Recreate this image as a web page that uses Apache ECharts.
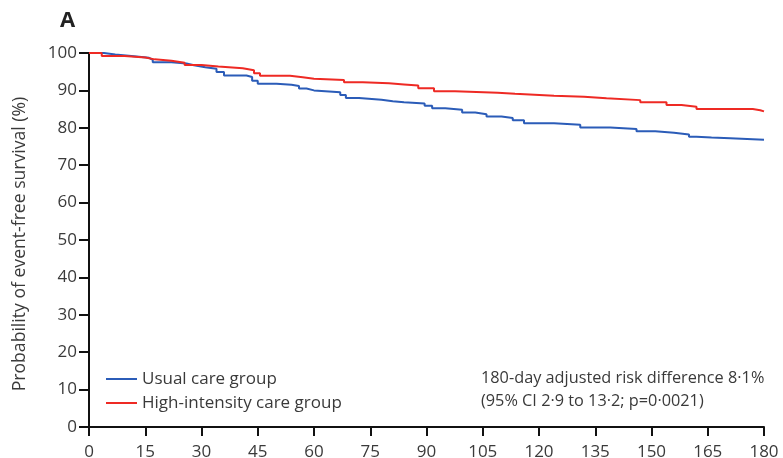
<!DOCTYPE html>
<html>
<head>
<meta charset="utf-8">
<script src="https://cdn.jsdelivr.net/npm/echarts@6/dist/echarts.min.js"></script>
<style>html,body{margin:0;padding:0;background:#fff}#c{width:783px;height:458px}</style>
</head>
<body>
<div id="c"></div>
<script>
const xTicks = [0,15,30,45,60,75,90,105,120,135,150,165,180];
const yTicks = [0,10,20,30,40,50,60,70,80,90,100];

const usualDays = [0,4,7,12,16,17,22,26,28,31,34,36,42,43.5,45,50,54,56,58,60,67,68.5,72,78,81,84,89.5,91.5,95,99.5,103,106,110,113,116,124,131,139,146,151,156,160,162,166,171,180];
const usualVals = [100,99.6,99.1,98.7,98.2,97.5,97.2,96.7,96.2,95.8,94.9,94.0,93.6,92.6,91.8,91.5,91.2,90.5,90.0,89.5,88.8,88.0,87.5,87.1,86.8,86.5,85.9,85.2,84.8,84.1,83.6,83.0,82.6,82.0,81.2,80.8,80.1,79.7,79.1,78.7,78.2,77.6,77.4,77.2,76.8,76.8];

const highDays = [0,3.4,9.5,15,17.5,22,25.5,30,34.5,41,44,45.6,53.6,57,60,68,73,80,84,87.8,92,97.6,109,113.6,124,132,138,147,154,158,162,177,179,180];
const highVals = [100,99.2,98.8,98.3,97.9,97.4,96.8,96.4,95.9,95.4,94.6,93.9,93.5,93.1,92.8,92.2,91.9,91.6,91.3,90.6,89.8,89.4,89.1,88.6,88.3,87.9,87.4,86.8,86.1,85.6,85.0,84.7,84.4,84.4];

const seriesNames = ['Usual care group','High-intensity care group'];
const noteLines = ['180-day adjusted risk difference 8·1%','(95% CI 2·9 to 13·2; p=0·0021)'];
const yAxisTitle = 'Probability of event-free survival (%)';
const panelLabel = 'A';

const FONT = 'Open Sans';
const TXT = '#3a3a3a';
const chart = echarts.init(document.getElementById('c'));
chart.setOption({
  animation:false,
  textStyle:{fontFamily:FONT},
  grid:{left:89,right:19,top:53,bottom:31,containLabel:false,outerBoundsMode:'none'},
  xAxis:{type:'value',min:0,max:180,interval:15,
    axisLine:{lineStyle:{color:'#111',width:2}},
    axisTick:{length:9,lineStyle:{color:'#111',width:2}},
    axisLabel:{margin:17,fontSize:17,color:TXT,fontFamily:FONT},
    splitLine:{show:false}},
  yAxis:{type:'value',min:0,max:100,interval:10,
    axisLine:{show:true,lineStyle:{color:'#111',width:2}},
    axisTick:{show:true,length:10,lineStyle:{color:'#111',width:2}},
    axisLabel:{margin:12,fontSize:17,color:TXT,fontFamily:FONT},
    splitLine:{show:false}},
  legend:{orient:'vertical',left:106,top:369,padding:0,itemWidth:31,itemHeight:2,itemGap:4,icon:'rect',
    textStyle:{fontSize:17,lineHeight:20,color:TXT,fontFamily:FONT},
    data:seriesNames},
  graphic:[
    {type:'text',x:60,y:21,style:{text:panelLabel,fontSize:22,fontWeight:'bold',fill:'#222',fontFamily:FONT,verticalAlign:'middle'}},
    {type:'text',x:20,y:244,rotation:Math.PI/2,style:{text:yAxisTitle,fontSize:17.6,fill:TXT,fontFamily:FONT,align:'center',verticalAlign:'middle'}},
    {type:'text',x:481,y:378,style:{text:noteLines[0],fontSize:16.3,fill:TXT,fontFamily:FONT,verticalAlign:'middle'}},
    {type:'text',x:481,y:401,style:{text:noteLines[1],fontSize:16.3,fill:TXT,fontFamily:FONT,verticalAlign:'middle'}}
  ],
  series:[
    {name:seriesNames[0],type:'line',step:'end',showSymbol:false,color:'#2b5cb8',
      lineStyle:{width:2,color:'#2b5cb8'},
      data:usualDays.map((d,i)=>[d,usualVals[i]])},
    {name:seriesNames[1],type:'line',step:'end',showSymbol:false,color:'#ee2a24',
      lineStyle:{width:2,color:'#ee2a24'},
      data:highDays.map((d,i)=>[d,highVals[i]])}
  ]
});
</script>
</body>
</html>
